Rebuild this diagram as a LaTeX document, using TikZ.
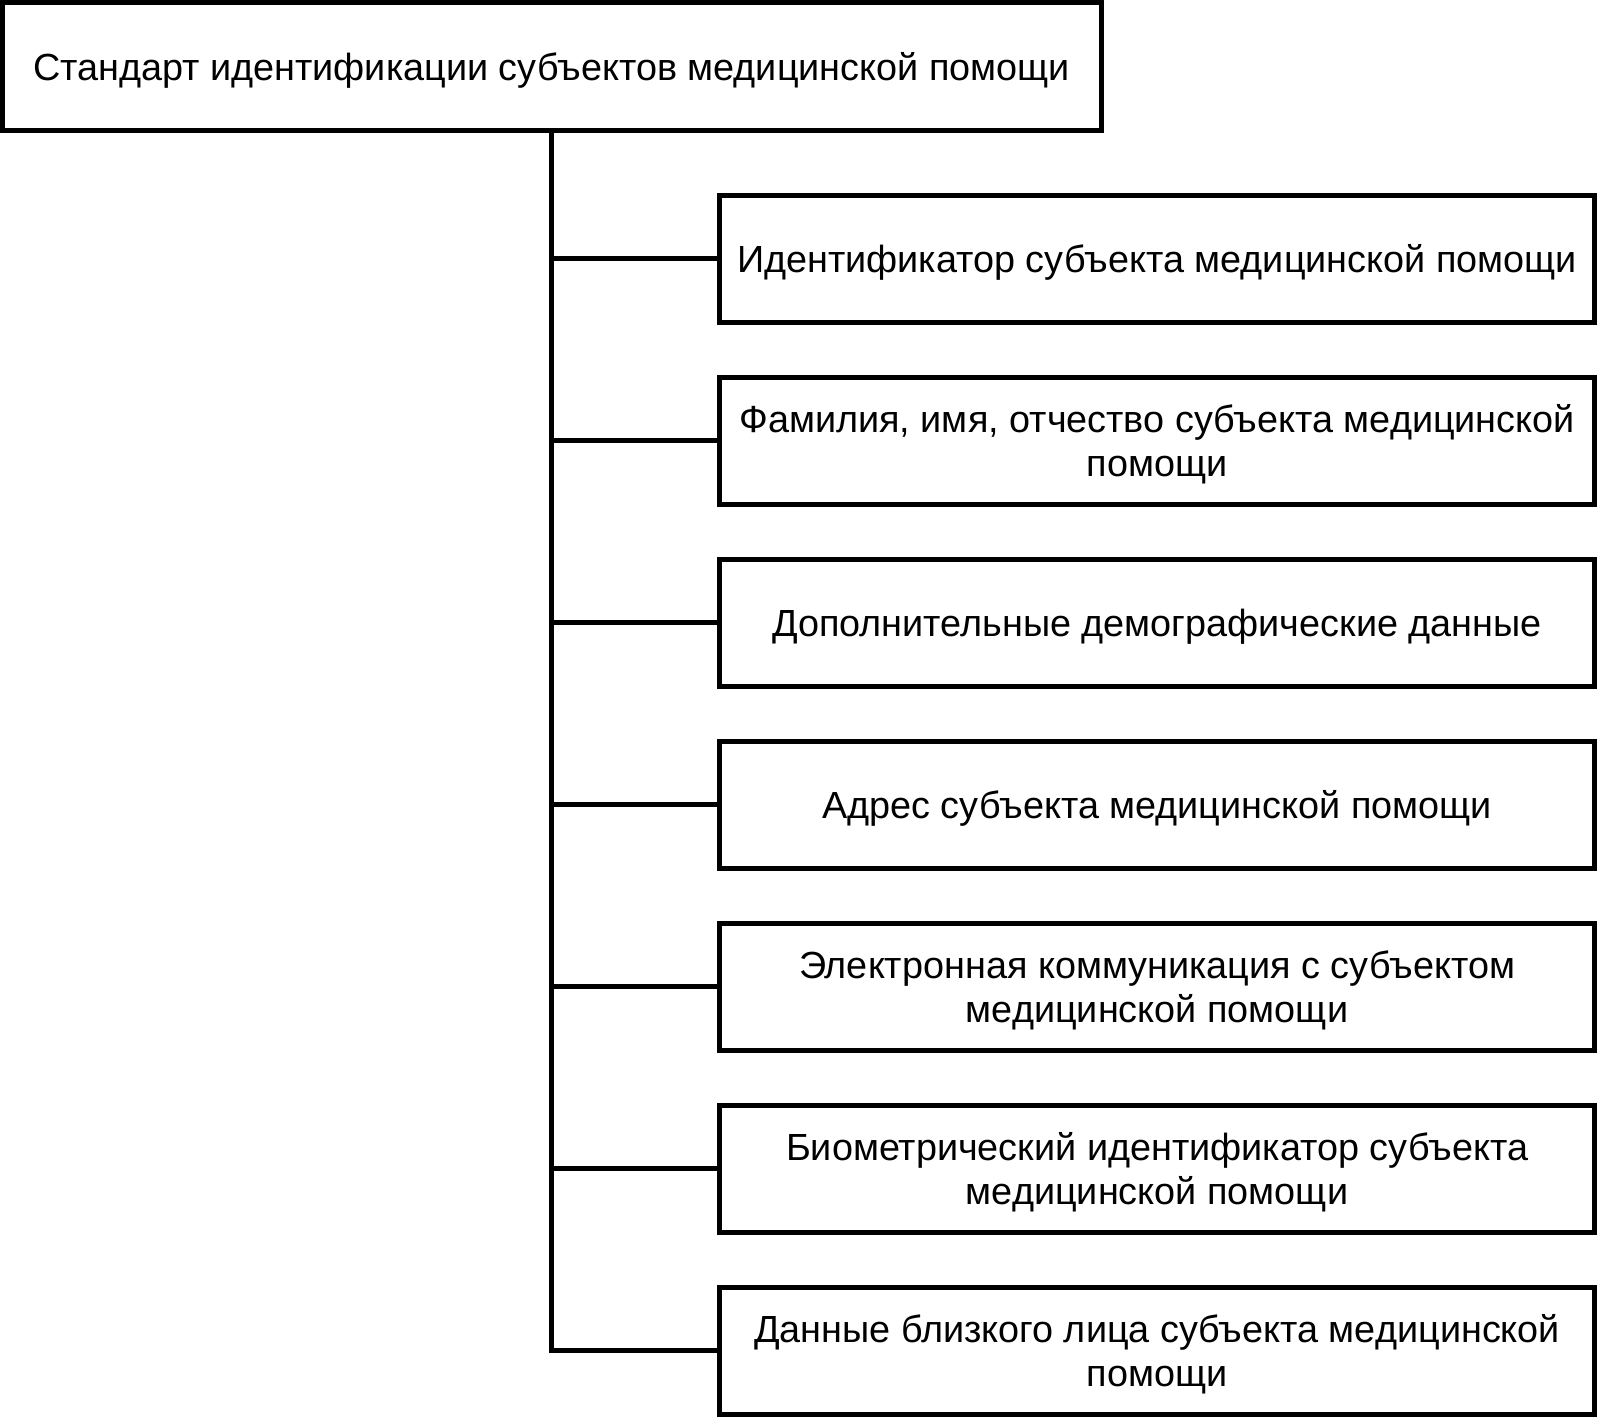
\documentclass[tikz,border=0pt]{standalone}
\usepackage{fontspec}
\setmainfont{Liberation Sans}
\usetikzlibrary{positioning}

\tikzset{
  frame/.style={draw,line width=2.5pt,outer sep=0pt,inner sep=0pt,align=center,
    text depth=0pt,font=\fontsize{18.9}{22}\selectfont},
  topbox/.style={frame,minimum width=549.5pt,minimum height=64pt},
  itembox/.style={frame,minimum width=437.25pt,minimum height=63.5pt},
  link/.style={line width=2.5pt}
}

\begin{document}
\begin{tikzpicture}[x=0.5pt,y=-0.5pt,node distance=27.5pt]
  \useasboundingbox (0,0) rectangle (1598,1420);
  \node[topbox] (std) at (551.5,66) {Стандарт идентификации субъектов медицинской помощи};

  \node[itembox] (id) at (1157,258.5) {Идентификатор субъекта медицинской помощи};
  \node[itembox,below=of id] (fio) {Фамилия, имя, отчество субъекта медицинской\\помощи};
  \node[itembox,below=of fio] (demo) {Дополнительные демографические данные};
  \node[itembox,below=of demo] (addr) {Адрес субъекта медицинской помощи};
  \node[itembox,below=of addr] (ecom) {Электронная коммуникация с субъектом\\медицинской помощи};
  \node[itembox,below=of ecom] (bio) {Биометрический идентификатор субъекта\\медицинской помощи};
  \node[itembox,below=of bio] (near) {Данные близкого лица субъекта медицинской\\помощи};

  % trunk and branches
  \draw[link] (std.south) |- (near.west);
  \foreach \n in {id,fio,demo,addr,ecom,bio}
    \draw[link] (std.south |- \n.west) -- (\n.west);
\end{tikzpicture}
\end{document}
